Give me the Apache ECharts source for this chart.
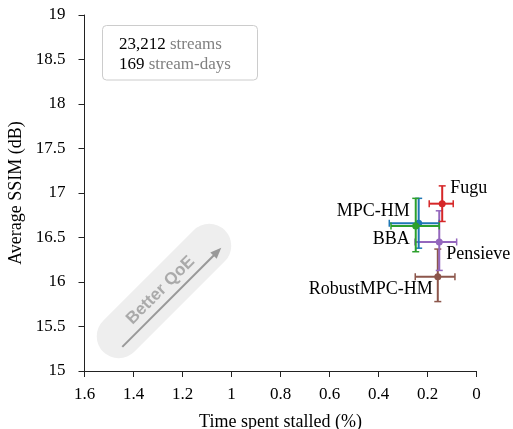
<!DOCTYPE html>
<html>
<head>
<meta charset="utf-8">
<script src="https://cdn.jsdelivr.net/npm/echarts@6/dist/echarts.min.js"></script>
<style>html,body{margin:0;padding:0;background:#fff;}#c{width:513px;height:429px;}</style>
</head>
<body>
<div id="c"></div>
<script>
// ---- data ----
const methods   = ['RobustMPC-HM', 'Pensieve', 'MPC-HM', 'BBA', 'Fugu'];
const stallMean = [0.158, 0.152, 0.236, 0.248, 0.140];
const stallLow  = [0.088, 0.081, 0.152, 0.152, 0.095];
const stallHigh = [0.250, 0.251, 0.356, 0.349, 0.193];
const ssimMean  = [16.06, 16.45, 16.66, 16.63, 16.88];
const ssimLow   = [15.78, 16.13, 16.38, 16.34, 16.68];
const ssimHigh  = [16.37, 16.80, 16.94, 16.94, 17.08];
const xTicks = [1.6, 1.4, 1.2, 1, 0.8, 0.6, 0.4, 0.2, 0];
const yTicks = [15, 15.5, 16, 16.5, 17, 17.5, 18, 18.5, 19];
const streams = '23,212';
const streamDays = '169';

// ---- styles ----
const colors = {
  'Fugu': '#d62728', 'MPC-HM': '#1f77b4', 'BBA': '#2ca02c',
  'Pensieve': '#9467bd', 'RobustMPC-HM': '#8c564b'
};
const labelPlace = {
  'Fugu': [8, -15, 'left'],
  'MPC-HM': [-9, -12, 'right'],
  'BBA': [-6, 13, 'right'],
  'Pensieve': [7, 12, 'left'],
  'RobustMPC-HM': [-5, 13, 'right']
};
const SERIF = '"Liberation Serif", "DejaVu Serif", serif';

const data = methods.map((m, i) => [stallMean[i], ssimMean[i], stallLow[i], stallHigh[i], ssimLow[i], ssimHigh[i]]);

function renderItem(params, api) {
  const name = methods[params.dataIndex];
  const col = colors[name];
  const c = api.coord([api.value(0), api.value(1)]);
  const xa = api.coord([api.value(2), api.value(1)]);
  const xb = api.coord([api.value(3), api.value(1)]);
  const ya = api.coord([api.value(0), api.value(4)]);
  const yb = api.coord([api.value(0), api.value(5)]);
  const cap = 3.5;
  const ls = {stroke: col, lineWidth: 2};
  const lp = labelPlace[name];
  return {
    type: 'group',
    children: [
      {type: 'line', shape: {x1: xa[0], y1: c[1], x2: xb[0], y2: c[1]}, style: ls},
      {type: 'line', shape: {x1: c[0], y1: ya[1], x2: c[0], y2: yb[1]}, style: ls},
      {type: 'line', shape: {x1: xa[0], y1: c[1] - cap, x2: xa[0], y2: c[1] + cap}, style: {stroke: col, lineWidth: 1.5}},
      {type: 'line', shape: {x1: xb[0], y1: c[1] - cap, x2: xb[0], y2: c[1] + cap}, style: {stroke: col, lineWidth: 1.5}},
      {type: 'line', shape: {x1: c[0] - cap, y1: ya[1], x2: c[0] + cap, y2: ya[1]}, style: {stroke: col, lineWidth: 1.5}},
      {type: 'line', shape: {x1: c[0] - cap, y1: yb[1], x2: c[0] + cap, y2: yb[1]}, style: {stroke: col, lineWidth: 1.5}},
      {type: 'circle', shape: {cx: c[0], cy: c[1], r: 3.5}, style: {fill: col}},
      {type: 'text', x: c[0] + lp[0], y: c[1] + lp[1],
        style: {text: name, fill: '#000', font: '18px ' + SERIF, align: lp[2], verticalAlign: 'middle'}}
    ]
  };
}

const chart = echarts.init(document.getElementById('c'), null, {renderer: 'canvas'});
chart.setOption({
  animation: false,
  backgroundColor: '#fff',
  grid: {left: 84.5, right: 36.5, top: 15, bottom: 58, containLabel: false, outerBoundsMode: 'none'},
  xAxis: {
    type: 'value', min: 0, max: 1.6, interval: 0.2, inverse: true,
    name: 'Time spent stalled (%)', nameLocation: 'middle', nameGap: 42,
    nameTextStyle: {fontFamily: SERIF, fontSize: 18, color: '#000'},
    axisLine: {show: true, onZero: false, lineStyle: {color: '#222', width: 1}},
    axisTick: {show: true, length: 6, lineStyle: {color: '#222'}},
    axisLabel: {fontFamily: SERIF, fontSize: 17, color: '#000', margin: 15,
      formatter: v => { const t = xTicks.find(k => Math.abs(k - v) < 1e-9); return t === undefined ? '' : String(t); }},
    splitLine: {show: false}
  },
  yAxis: {
    type: 'value', min: 15, max: 19, interval: 0.5,
    name: 'Average SSIM (dB)', nameLocation: 'middle', nameGap: 57,
    nameTextStyle: {fontFamily: SERIF, fontSize: 18, color: '#000'},
    axisLine: {show: true, onZero: false, lineStyle: {color: '#222', width: 1}},
    axisTick: {show: true, length: 6, lineStyle: {color: '#222'}},
    axisLabel: {fontFamily: SERIF, fontSize: 17, color: '#000', margin: 19,
      formatter: v => { const t = yTicks.find(k => Math.abs(k - v) < 1e-9); return t === undefined ? '' : String(t); }},
    splitLine: {show: false}
  },
  graphic: [
    {
      type: 'group', x: 164, y: 291, rotation: Math.PI / 4, z: 0, silent: true,
      children: [
        {type: 'rect', shape: {x: -86, y: -22, width: 172, height: 44, r: 22}, style: {fill: '#eeeeee'}},
        {type: 'line', shape: {x1: -69, y1: 10, x2: 62, y2: 10}, style: {stroke: '#999', lineWidth: 2}},
        {type: 'polygon', shape: {points: [[71, 10], [60, 5.5], [60, 14.5]]}, style: {fill: '#999'}},
        {type: 'text', x: -2, y: -3, style: {text: 'Better QoE', fill: '#aaa', font: 'bold 17px "Liberation Sans", Arial, sans-serif', align: 'center', verticalAlign: 'middle'}}
      ]
    },
    {
      type: 'rect', shape: {x: 102.5, y: 25.5, width: 155, height: 54.5, r: 4},
      style: {fill: '#fff', stroke: '#cccccc', lineWidth: 1}, z: 10
    },
    {
      type: 'text', x: 119, y: 45, z: 11,
      style: {text: '{n|' + streams + '} {w|streams}', font: '17px ' + SERIF, verticalAlign: 'middle',
        rich: {n: {fill: '#000', font: '17px ' + SERIF}, w: {fill: '#808080', font: '17px ' + SERIF}}}
    },
    {
      type: 'text', x: 119, y: 64.5, z: 11,
      style: {text: '{n|' + streamDays + '} {w|stream-days}', font: '17px ' + SERIF, verticalAlign: 'middle',
        rich: {n: {fill: '#000', font: '17px ' + SERIF}, w: {fill: '#808080', font: '17px ' + SERIF}}}
    }
  ],
  series: [{
    type: 'custom', renderItem: renderItem, data: data, clip: false, z: 5,
    encode: {x: 0, y: 1}
  }]
});
</script>
</body>
</html>
